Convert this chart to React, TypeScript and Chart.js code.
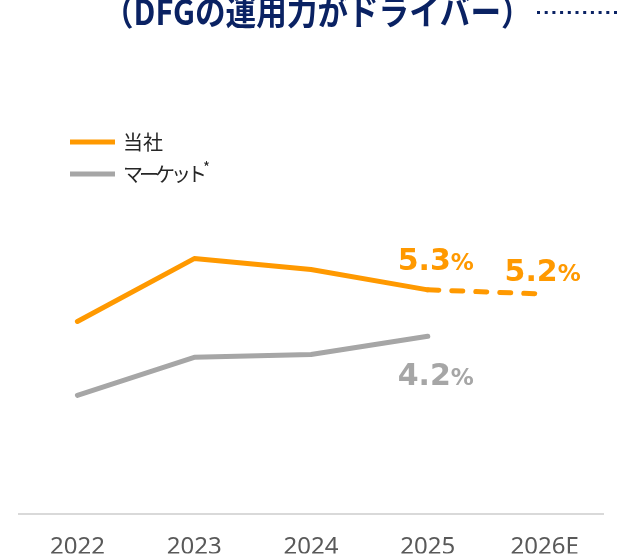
import React, { useEffect, useRef } from 'react';
import { Chart, registerables } from 'chart.js';

Chart.register(...registerables);

const categories = ['2022', '2023', '2024', '2025', '2026E'];
const companyValues = [4.55, 6.04, 5.78, 5.3, 5.2];
const marketValues: (number | null)[] = [2.8, 3.7, 3.77, 4.2, null];
const yMin = 0;
const yMax = 10;
const titleText = '（DFGの運用力がドライバー）';
const companyLabel = '当社';
const marketLabel = 'マーケット';

const ORANGE = '#FF9900';
const GRAY = '#A6A6A6';
const NAVY = '#0A2263';

const overlayPlugin = {
  id: 'overlay',
  afterDatasetsDraw(chart: any) {
    const ctx = chart.ctx as CanvasRenderingContext2D;

    // data labels
    const drawPct = (ds: number, i: number, dx: number, dy: number) => {
      const pt = chart.getDatasetMeta(ds).data[i];
      const v = chart.data.datasets[ds].data[i] as number;
      const color = chart.data.datasets[ds].borderColor;
      const num = v.toFixed(1);
      ctx.save();
      ctx.textAlign = 'left';
      ctx.textBaseline = 'alphabetic';
      ctx.font = 'bold 30px "DejaVu Sans"';
      const w1 = ctx.measureText(num).width;
      ctx.font = 'bold 23px "DejaVu Sans"';
      const w2 = ctx.measureText('%').width;
      const x0 = pt.x + dx - (w1 + w2) / 2;
      const yb = pt.y + dy;
      ctx.fillStyle = color;
      ctx.font = 'bold 30px "DejaVu Sans"';
      ctx.fillText(num, x0, yb);
      ctx.font = 'bold 23px "DejaVu Sans"';
      ctx.fillText('%', x0 + w1, yb);
      ctx.restore();
    };
    drawPct(0, 3, 8, -20);
    drawPct(0, 4, -2, -13);
    drawPct(1, 3, 8, 49);

    // legend
    const items = [
      { label: companyLabel, color: chart.data.datasets[0].borderColor, y: 142, sup: false },
      { label: marketLabel, color: chart.data.datasets[1].borderColor, y: 174, sup: true },
    ];
    ctx.save();
    items.forEach((it) => {
      ctx.strokeStyle = it.color;
      ctx.lineWidth = 5;
      ctx.lineCap = 'butt';
      ctx.beginPath();
      ctx.moveTo(70, it.y);
      ctx.lineTo(115, it.y);
      ctx.stroke();
      ctx.fillStyle = '#262626';
      ctx.textAlign = 'left';
      ctx.textBaseline = 'middle';
      ctx.font = '20px "Noto Sans CJK JP"';
      (ctx as any).letterSpacing = it.sup ? '-4px' : '0px';
      ctx.fillText(it.label, 123, it.y);
      const w = ctx.measureText(it.label).width;
      (ctx as any).letterSpacing = '0px';
      if (it.sup) {
        ctx.font = '15px "Noto Sans CJK JP"';
        ctx.fillText('*', 123 + w, it.y - 7);
      }
    });
    ctx.restore();

    // title (scaled so its ink spans x 123..513, taller glyphs, top clipped by the page edge)
    ctx.save();
    ctx.textAlign = 'left';
    ctx.textBaseline = 'alphabetic';
    ctx.font = 'bold 30px "Noto Sans CJK JP"';
    const m0 = ctx.measureText(titleText);
    const ink0 = m0.actualBoundingBoxLeft + m0.actualBoundingBoxRight;
    const size = (30 * 390) / ink0;
    ctx.font = `bold ${size.toFixed(2)}px "Noto Sans CJK JP"`;
    const m = ctx.measureText(titleText);
    const ox = 123 + m.actualBoundingBoxLeft;
    ctx.fillStyle = NAVY;
    ctx.translate(ox, 24.5);
    ctx.scale(1, 1.15);
    ctx.fillText(titleText, 0, 0);
    ctx.restore();

    ctx.save();
    ctx.strokeStyle = NAVY;
    ctx.lineWidth = 3;
    ctx.setLineDash([3, 4.7]);
    ctx.beginPath();
    ctx.moveTo(537, 12.5);
    ctx.lineTo(621, 12.5);
    ctx.stroke();
    ctx.restore();
  },
};

export default function App() {
  const ref = useRef<HTMLCanvasElement | null>(null);
  useEffect(() => {
    if (!ref.current) return;
    const chart = new Chart(ref.current, {
      type: 'line',
      data: {
        labels: categories,
        datasets: [
          {
            label: companyLabel,
            data: companyValues,
            borderColor: ORANGE,
            backgroundColor: ORANGE,
            borderWidth: 5,
            borderCapStyle: 'round',
            borderJoinStyle: 'round',
            pointRadius: 0,
            tension: 0,
            segment: {
              borderDash: (c: any) => (c.p0DataIndex === 3 ? [11, 13] : undefined),
            },
          },
          {
            label: marketLabel,
            data: marketValues,
            borderColor: GRAY,
            backgroundColor: GRAY,
            borderWidth: 5,
            borderCapStyle: 'round',
            borderJoinStyle: 'round',
            pointRadius: 0,
            tension: 0,
          },
        ],
      },
      options: {
        responsive: false,
        animation: false,
        layout: { padding: { left: 19, right: 18, top: 91.5, bottom: 6.5 } },
        plugins: { legend: { display: false }, tooltip: { enabled: false }, title: { display: false } },
        scales: {
          x: {
            offset: true,
            grid: { display: false, drawTicks: false },
            border: { display: true, color: '#D9D9D9', width: 2 },
            ticks: {
              color: '#595959',
              font: { family: '"Noto Sans", sans-serif', size: 24 },
              padding: 19,
              maxRotation: 0,
              autoSkip: false,
            },
            afterFit: (s: any) => {
              s.height = 40;
            },
          },
          y: { display: false, min: yMin, max: yMax },
        },
      },
      plugins: [overlayPlugin],
    } as any);
    return () => chart.destroy();
  }, []);
  return (
    <div style={{ position: 'absolute', left: 0, top: 0, width: 621, height: 560, background: '#fff' }}>
      <canvas ref={ref} width={621} height={560} style={{ display: 'block' }} />
    </div>
  );
}
